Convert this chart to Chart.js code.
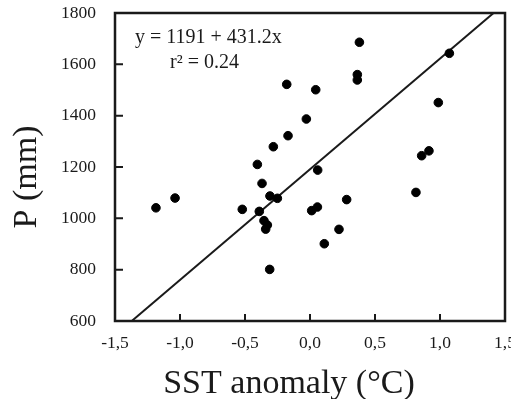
<!DOCTYPE html>
<html>
<head>
<meta charset="utf-8">
<script src="https://cdn.jsdelivr.net/npm/chart.js@4.4.0/dist/chart.umd.min.js"></script>
<style>
  body { margin: 0; background: #fff; }
  #wrap { width: 511px; height: 399px; }
</style>
</head>
<body>
<div id="wrap"><canvas id="sstChart" width="511" height="399"></canvas></div>
<script>
// SST anomaly (°C) vs precipitation P (mm)
const sst = [-1.185, -1.038, -0.521, -0.405, -0.390, -0.369, -0.354, -0.341, -0.328, -0.310,
  -0.308, -0.282, -0.251, -0.179, -0.169, -0.028, 0.013, 0.044, 0.057, 0.059,
  0.110, 0.223, 0.282, 0.364, 0.364, 0.380, 0.815, 0.859, 0.915, 0.987, 1.072];
const precip = [1041, 1079, 1035, 1210, 1027, 1136, 991, 958, 974, 801,
  1087, 1279, 1078, 1522, 1322, 1387, 1030, 1501, 1044, 1188,
  901, 957, 1073, 1539, 1560, 1686, 1101, 1244, 1263, 1451, 1643];

// regression line y = 1191 + 431.2x, end points where it meets the frame
const fitX = [-1.371, 1.412];
const fitY = [600, 1800];

const xTicks = ['-1,5', '-1,0', '-0,5', '0,0', '0,5', '1,0', '1,5'];
const yTicks = ['600', '800', '1000', '1200', '1400', '1600', '1800'];

const eqText = 'y = 1191 + 431.2x';
const r2Text = 'r² = 0.24';

const serif = '"Liberation Serif", "Times New Roman", serif';
const ink = '#1a1a1a';

// frame box, inward ticks, titles and equation
const framePlugin = {
  id: 'frame',
  afterDraw(chart) {
    const c = chart.ctx;
    const a = chart.chartArea;
    const xs = chart.scales.x, ys = chart.scales.y;
    c.save();
    c.strokeStyle = ink;
    c.lineWidth = 2.5;
    c.strokeRect(a.left, a.top, a.right - a.left, a.bottom - a.top);

    // inward tick marks
    c.lineWidth = 2;
    c.beginPath();
    xs.ticks.forEach(t => {
      const px = xs.getPixelForValue(t.value);
      c.moveTo(px, a.bottom);
      c.lineTo(px, a.bottom - 7);
    });
    ys.ticks.forEach(t => {
      const py = ys.getPixelForValue(t.value);
      c.moveTo(a.left, py);
      c.lineTo(a.left + 8, py);
    });
    c.stroke();

    c.fillStyle = ink;
    c.textAlign = 'left';
    c.textBaseline = 'middle';
    c.font = '20px ' + serif;
    c.fillText(eqText, 135, 38);
    c.fillText(r2Text, 170, 63);

    c.textAlign = 'center';
    c.textBaseline = 'alphabetic';
    c.font = '34px ' + serif;
    c.fillText('SST anomaly (°C)', 289, 393);

    c.translate(36, 177);
    c.rotate(-Math.PI / 2);
    c.font = '34px ' + serif;
    c.fillText('P (mm)', 0, 0);
    c.restore();
  }
};

function fixWidth(w) {
  return s => {
    s.width = w;
    s.paddingLeft = s.paddingRight = s.paddingTop = s.paddingBottom = 0;
  };
}
function fixHeight(h) {
  return s => {
    s.height = h;
    s.paddingLeft = s.paddingRight = s.paddingTop = s.paddingBottom = 0;
  };
}

new Chart(document.getElementById('sstChart'), {
  type: 'scatter',
  data: {
    datasets: [
      {
        label: 'P',
        data: sst.map((x, i) => ({ x: x, y: precip[i] })),
        backgroundColor: '#000',
        borderColor: '#000',
        pointRadius: 4.3,
        pointHoverRadius: 4.3
      },
      {
        label: 'fit',
        type: 'line',
        data: fitX.map((x, i) => ({ x: x, y: fitY[i] })),
        borderColor: ink,
        borderWidth: 2,
        pointRadius: 0,
        fill: false
      }
    ]
  },
  options: {
    responsive: false,
    animation: false,
    events: [],
    layout: { padding: { left: 0, top: 13, right: 6, bottom: 0 } },
    plugins: {
      legend: { display: false },
      tooltip: { enabled: false }
    },
    scales: {
      x: {
        type: 'linear',
        min: -1.5,
        max: 1.5,
        afterFit: fixHeight(78),
        afterBuildTicks: s => { s.ticks = xTicks.map(t => ({ value: parseFloat(t.replace(',', '.')) })); },
        grid: { display: false, drawTicks: false },
        border: { display: false },
        ticks: {
          padding: 12,
          color: ink,
          font: { family: serif, size: 17.5 },
          callback: (v, i) => xTicks[i]
        }
      },
      y: {
        type: 'linear',
        min: 600,
        max: 1800,
        afterFit: fixWidth(115),
        afterBuildTicks: s => { s.ticks = yTicks.map(t => ({ value: Number(t) })); },
        grid: { display: false, drawTicks: false },
        border: { display: false },
        ticks: {
          padding: 19,
          color: ink,
          font: { family: serif, size: 17.5 },
          callback: (v, i) => yTicks[i]
        }
      }
    }
  },
  plugins: [framePlugin]
});
</script>
</body>
</html>
